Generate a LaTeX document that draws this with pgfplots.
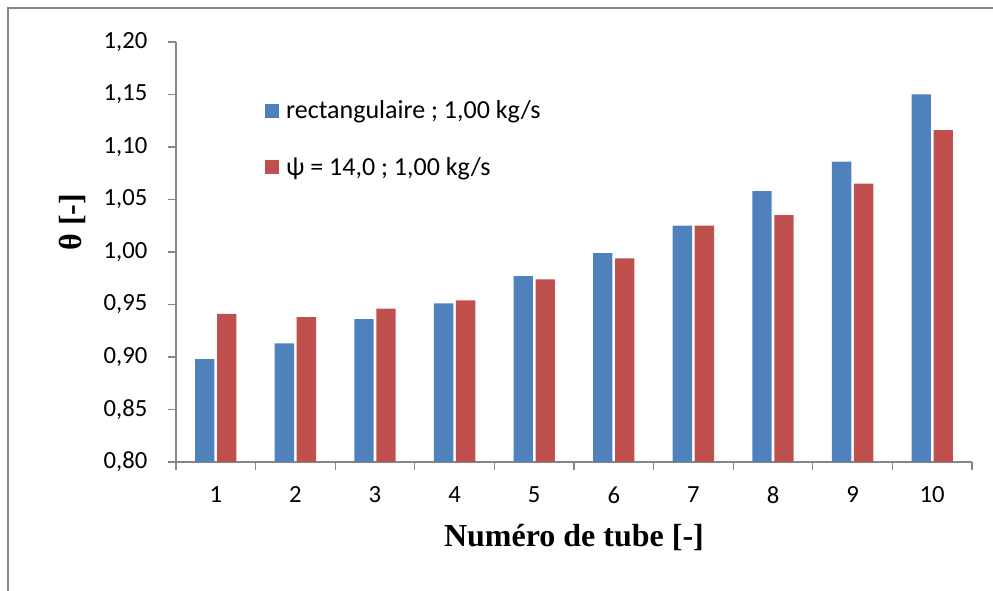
\documentclass[border=0pt]{standalone}
\usepackage{fontspec}
\setmainfont{Carlito}
\newfontfamily\labelfont{Liberation Serif}
\usepackage{pgfplots}
\pgfplotsset{compat=1.18}
\definecolor{barblue}{HTML}{4F81BD}
\definecolor{barred}{HTML}{C0504D}
\definecolor{axgray}{HTML}{868686}

\begin{document}
\begin{tikzpicture}
% page = 993 x 591 px at 0.75pt/px, axis box lower left at px (176,462)
\useasboundingbox (-132pt,-96.75pt) rectangle (612.75pt,346.5pt);
\draw[axgray, line width=1.1pt] (-126pt,-96.75pt) -- (-126pt,340.5pt) -- (612.75pt,340.5pt);
\begin{axis}[
    at={(0,0)}, anchor=south west,
    scale only axis,
    width=597pt, height=315pt,
    ybar, bar width=14.5pt,
    xmin=0.5, xmax=10.5,
    ymin=0.80, ymax=1.20,
    xtick={0.5,1.5,2.5,3.5,4.5,5.5,6.5,7.5,8.5,9.5,10.5},
    x tick label as interval,
    xticklabels={1,2,3,4,5,6,7,8,9,10},
    ytick={0.80,0.85,0.90,0.95,1.00,1.05,1.10,1.15,1.20},
    yticklabel style={/pgf/number format/use comma, /pgf/number format/fixed,
        /pgf/number format/fixed zerofill, /pgf/number format/precision=2,
        /pgf/number format/assume math mode=true, xshift=-12pt},
    axis x line*=bottom, axis y line*=left,
    axis line style={axgray, line width=1pt},
    tick style={axgray, line width=1pt},
    tick align=outside, major tick length=6pt,
    ticklabel style={font=\fontsize{18.5}{22}\selectfont},
    xticklabel style={yshift=-9pt},
    xlabel={Numéro de tube [-]},
    ylabel={θ [-]},
    label style={font=\labelfont\bfseries\fontsize{24}{28}\selectfont},
    xlabel style={at={(axis description cs:0.5,-0.181)}, anchor=center},
    ylabel style={at={(axis description cs:-0.1307,0.571)}, anchor=center},
    legend style={draw=none, fill=none, at={(axis description cs:0.107,0.873)}, anchor=north west,
        font=\fontsize{19.5}{23}\selectfont, row sep=23pt, legend cell align=left},
    legend image code/.code={\fill[#1] (0pt,-5.25pt) rectangle (10.5pt,5.25pt);},
]
\addplot[fill=barblue, draw=none] coordinates {
(1,0.898) (2,0.913) (3,0.936) (4,0.951) (5,0.977) (6,0.999) (7,1.025) (8,1.058) (9,1.086) (10,1.150)
};
\addlegendentry{\hspace*{3pt}rectangulaire ; 1,00 kg/s}
\addplot[fill=barred, draw=none] coordinates {
(1,0.941) (2,0.938) (3,0.946) (4,0.954) (5,0.974) (6,0.994) (7,1.025) (8,1.035) (9,1.065) (10,1.116)
};
\addlegendentry{\hspace*{3pt}ψ = 14,0 ; 1,00 kg/s}
\end{axis}
\end{tikzpicture}
\end{document}
